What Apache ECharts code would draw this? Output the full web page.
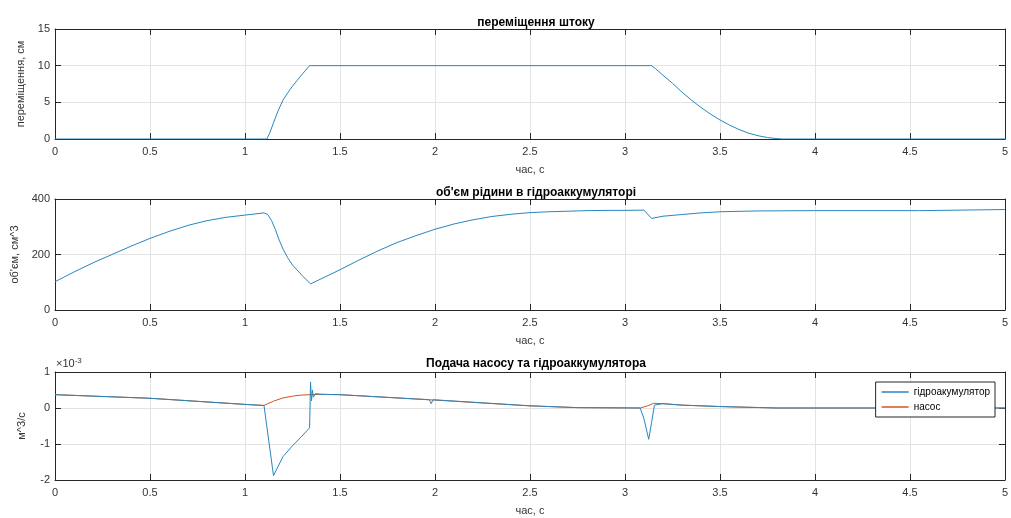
<!DOCTYPE html>
<html>
<head>
<meta charset="utf-8">
<script src="https://cdn.jsdelivr.net/npm/echarts@6/dist/echarts.min.js"></script>
<style>
  html, body { margin: 0; padding: 0; background: #fff; }
  #main { width: 1011px; height: 518px; }
</style>
</head>
<body>
<div id="main"></div>
<script>
// ---- data ----
// переміщення штоку (см)
var strokeTime = [0, 1.115, 1.13, 1.15, 1.175, 1.2, 1.225, 1.25, 1.275, 1.3, 1.32, 1.34, 3.14, 3.16, 3.2, 3.25, 3.3, 3.35, 3.4, 3.45, 3.5, 3.55, 3.6, 3.65, 3.7, 3.75, 3.8, 3.83, 5];
var strokeVal = [0, 0, 0.8, 2.2, 3.9, 5.3, 6.3, 7.2, 8.0, 8.8, 9.4, 10, 10, 9.6, 8.7, 7.6, 6.4, 5.3, 4.3, 3.4, 2.6, 1.9, 1.3, 0.8, 0.45, 0.2, 0.05, 0, 0];

// об'єм рідини в гідроакумуляторі (см^3)
var volTime = [0, 0.1, 0.2, 0.3, 0.4, 0.5, 0.6, 0.7, 0.8, 0.9, 1.0, 1.1, 1.12, 1.14, 1.16, 1.18, 1.2, 1.225, 1.25, 1.3, 1.345, 1.4, 1.5, 1.6, 1.7, 1.8, 1.9, 2.0, 2.1, 2.2, 2.3, 2.4, 2.5, 2.6, 2.7, 2.8, 2.9, 3.0, 3.1, 3.14, 3.2, 3.3, 3.4, 3.5, 3.7, 4.0, 4.55, 4.56, 5];
var volVal = [102, 137, 170, 200, 230, 258, 283, 305, 322, 334, 342, 350, 344, 322, 290, 252, 220, 188, 162, 125, 94, 112, 145, 180, 213, 243, 268, 291, 310, 325, 337, 345, 351, 354, 356, 358, 359, 359, 360, 330, 338, 344, 350, 354, 357, 358, 358, 362, 362];

// подача, x10^-3 м^3/с
var accTime = [0, 0.5, 1.0, 1.1, 1.15, 1.2, 1.25, 1.3, 1.34, 1.345, 1.35, 1.355, 1.36, 1.37, 1.4, 1.5, 1.97, 1.98, 1.99, 2.5, 2.75, 3.08, 3.1, 3.125, 3.14, 3.155, 3.2, 3.3, 3.5, 3.8, 5];
var accVal = [0.37, 0.27, 0.1, 0.07, -1.88, -1.35, -1.05, -0.78, -0.55, 0.72, 0.2, 0.5, 0.3, 0.4, 0.38, 0.37, 0.23, 0.12, 0.23, 0.06, 0.01, 0.0, -0.3, -0.87, -0.4, 0.08, 0.12, 0.08, 0.04, 0.0, 0.0];
var pumpTime = [0, 0.5, 1.0, 1.1, 1.12, 1.15, 1.2, 1.25, 1.3, 1.35, 1.4, 1.5, 2.0, 2.5, 2.75, 3.08, 3.12, 3.15, 3.2, 3.3, 3.5, 3.8, 5];
var pumpVal = [0.37, 0.27, 0.1, 0.07, 0.12, 0.19, 0.28, 0.33, 0.36, 0.37, 0.38, 0.37, 0.22, 0.06, 0.01, 0.0, 0.06, 0.13, 0.12, 0.08, 0.04, 0.0, 0.0];

var titles = ['переміщення штоку', "об'єм рідини в гідроаккумуляторі", 'Подача насосу та гідроаккумулятора'];
var yNames = ['переміщення, см', "об'єм, см^3", 'м^3/с'];
var yRanges = [[0, 15, 5], [0, 400, 200], [-2, 1, 1]];
var xName = 'час, с';

function pairs(xs, ys) {
  return xs.map(function (x, i) { return [x, ys[i]]; });
}

var grids = [
  { left: 55, right: 4, top: 29, height: 110 },
  { left: 55, right: 4, top: 199, height: 111 },
  { left: 55, right: 4, top: 372, height: 108 }
];

var boxColor = '#262626';
var textColor = '#333';
var gridColor = '#e3e3e3';
var blue = '#2787c0';
var orange = '#D95319';

var xAxes = [], yAxes = [];
grids.forEach(function (g, i) {
  xAxes.push({
    type: 'value', gridIndex: i, min: 0, max: 5, interval: 0.5,
    name: xName, nameLocation: 'middle', nameGap: 25,
    nameTextStyle: { color: textColor, fontSize: 11, fontFamily: 'Liberation Sans' },
    axisLine: { onZero: false, lineStyle: { color: boxColor } },
    axisTick: { inside: true, length: 6, lineStyle: { color: boxColor } },
    axisLabel: { color: textColor, fontSize: 11, margin: 7, fontFamily: 'Liberation Sans' },
    splitLine: { show: true, lineStyle: { color: gridColor } }
  });
});
grids.forEach(function (g, i) {
  xAxes.push({
    type: 'value', gridIndex: i, position: 'top', min: 0, max: 5, interval: 0.5,
    axisLine: { onZero: false, lineStyle: { color: boxColor } },
    axisTick: { inside: true, length: 6, lineStyle: { color: boxColor } },
    axisLabel: { show: false }, splitLine: { show: false }
  });
});
grids.forEach(function (g, i) {
  var r = yRanges[i];
  yAxes.push({
    type: 'value', gridIndex: i, min: r[0], max: r[1], interval: r[2],
    name: yNames[i], nameLocation: 'middle', nameGap: i === 2 ? 28 : 29, nameRotate: 90,
    nameTextStyle: { color: textColor, fontSize: 11, fontFamily: 'Liberation Sans' },
    axisLine: { show: true, onZero: false, lineStyle: { color: boxColor } },
    axisTick: { show: true, inside: true, length: 6, lineStyle: { color: boxColor } },
    axisLabel: { color: textColor, fontSize: 11, margin: 5, fontFamily: 'Liberation Sans' },
    splitLine: { show: true, lineStyle: { color: gridColor } }
  });
});
grids.forEach(function (g, i) {
  var r = yRanges[i];
  yAxes.push({
    type: 'value', gridIndex: i, position: 'right', min: r[0], max: r[1], interval: r[2],
    axisLine: { show: true, onZero: false, lineStyle: { color: boxColor } },
    axisTick: { show: true, inside: true, length: 6, lineStyle: { color: boxColor } },
    axisLabel: { show: false }, splitLine: { show: false }
  });
});

var titleTops = [12, 182, 353];
var chart = echarts.init(document.getElementById('main'));
var option = {
  animation: false,
  backgroundColor: '#fff',
  title: titles.map(function (t, i) {
    return {
      text: t, left: 531, top: titleTops[i], textAlign: 'center',
      textStyle: { fontSize: 12, fontWeight: 'bold', color: '#000', fontFamily: 'Liberation Sans' }
    };
  }),
  grid: grids,
  xAxis: xAxes,
  yAxis: yAxes,
  legend: {
    orient: 'vertical', right: 16, top: 382,
    data: [
      { name: 'гідроакумулятор', icon: 'rect' },
      { name: 'насос', icon: 'rect' }
    ],
    backgroundColor: '#fff', borderColor: boxColor, borderWidth: 1,
    padding: [4, 5, 4, 6], itemGap: 3, itemWidth: 27, itemHeight: 1.5,
    textStyle: { fontSize: 10, color: '#000', fontFamily: 'Liberation Sans', lineHeight: 12 }
  },
  graphic: [{
    type: 'text', left: 56, top: 357,
    style: {
      text: '×10{s|-3}', fill: textColor, fontSize: 11, fontFamily: 'Liberation Sans',
      rich: { s: { fontSize: 8, verticalAlign: 'top', padding: [0, 0, 6, 0], fill: textColor } }
    }
  }],
  series: [
    {
      name: 'переміщення', type: 'line', xAxisIndex: 0, yAxisIndex: 0,
      data: pairs(strokeTime, strokeVal), symbol: 'none',
      lineStyle: { color: blue, width: 1 }, itemStyle: { color: blue }
    },
    {
      name: "об'єм", type: 'line', xAxisIndex: 1, yAxisIndex: 1,
      data: pairs(volTime, volVal), symbol: 'none',
      lineStyle: { color: blue, width: 1 }, itemStyle: { color: blue }
    },
    {
      name: 'насос', type: 'line', xAxisIndex: 2, yAxisIndex: 2,
      data: pairs(pumpTime, pumpVal), symbol: 'none',
      lineStyle: { color: orange, width: 1 }, itemStyle: { color: orange }
    },
    {
      name: 'гідроакумулятор', type: 'line', xAxisIndex: 2, yAxisIndex: 2,
      data: pairs(accTime, accVal), symbol: 'none',
      lineStyle: { color: blue, width: 1 }, itemStyle: { color: blue }
    }
  ]
};
chart.setOption(option);
</script>
</body>
</html>
